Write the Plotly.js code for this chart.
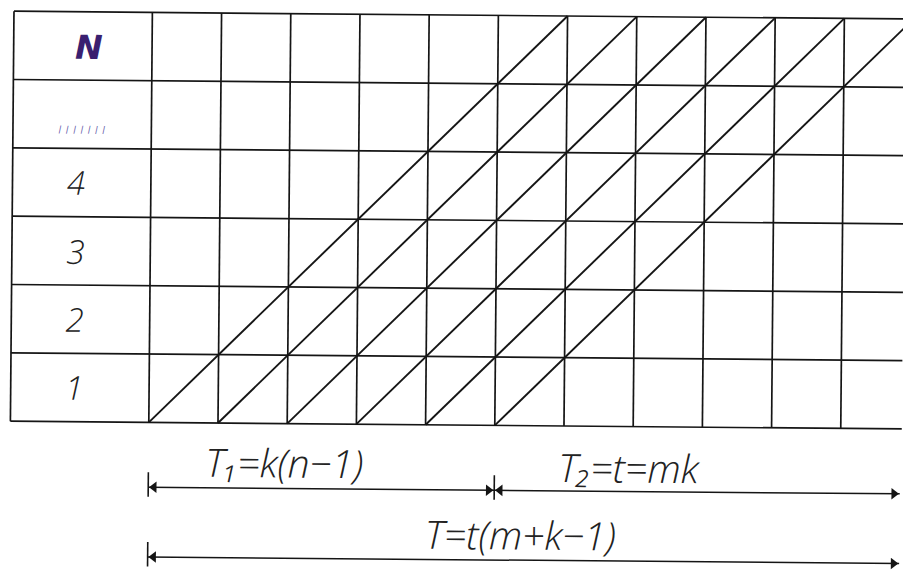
<!DOCTYPE html>
<html>
<head>
<meta charset="utf-8">
<script src="https://cdn.plot.ly/plotly-3.0.1.min.js"></script>
<style>
  html, body { margin: 0; padding: 0; background: #ffffff; overflow: hidden; }
  #chart { width: 903px; height: 572px; transform: rotate(0.5deg); transform-origin: 50% 50%; }
</style>
</head>
<body>
<div id="chart"></div>
<script>
// ---- data ----
const rowLabels = ['1', '2', '3', '4', 'ı ı ı ı ı ı ı', 'N'];      // bottom to top
const rowLabelColors = ['#222222', '#222222', '#222222', '#222222', '#5f5aa8', '#3a1f70'];
const columnCount = 11;                                     // time columns after the label column
const diagonalStarts = [0, 1, 2, 3, 4, 5];                  // column where each item starts
const stageCount = 6;                                       // rows crossed by every diagonal
const dimLabels = ['T₁=k(n−1)', 'T₂=t=mk', 'T=t(m+k−1)'];
const dimFrom = [0, 5, 0];
const dimTo = [5, 10.86, 10.86];
const dimLevel = [-0.95, -0.95, -1.97];
const dimTextX = [1.97, 6.95, 5.39];
const dimTextY = [-0.57, -0.59, -1.59];
const tickAt = [0, 5, 0];
const tickLevel = [-0.95, -0.95, -1.97];

// ---- build ----
const ink = '#151515';
const px0 = 150, pxPer = 69.2, py0 = 425, pyPer = 68.33;
const shapes = [];
const rows = rowLabels.length;
for (let r = 0; r <= rows; r++) {
  shapes.push({type: 'line', xref: 'x', yref: 'y', x0: -2, x1: columnCount + 1, y0: r, y1: r,
    line: {color: ink, width: 1.7}});
}
const vx = [-2];
for (let c = 0; c <= columnCount; c++) vx.push(c);
vx.forEach(x => shapes.push({type: 'line', xref: 'x', yref: 'y', x0: x, x1: x, y0: 0, y1: rows,
  line: {color: ink, width: 1.7}}));
diagonalStarts.forEach(s => shapes.push({type: 'line', xref: 'x', yref: 'y',
  x0: s, y0: 0, x1: s + stageCount, y1: stageCount, line: {color: ink, width: 1.9}}));
tickAt.forEach((x, i) => shapes.push({type: 'line', xref: 'x', yref: 'y',
  x0: x, x1: x, y0: tickLevel[i] - 0.14, y1: tickLevel[i] + 0.22, line: {color: ink, width: 1.6}}));
dimFrom.forEach((x0, i) => shapes.push({type: 'line', xref: 'x', yref: 'y',
  x0: x0, x1: dimTo[i], y0: dimLevel[i], y1: dimLevel[i], line: {color: ink, width: 1.5}}));

// arrowheads as triangle markers whose tips touch the segment ends
const arrowSize = 10;
const tipOffset = (arrowSize / 2) * 2 / Math.sqrt(3) / pxPer;
const arrowTrace = {
  type: 'scatter', mode: 'markers', hoverinfo: 'skip',
  x: [], y: [], marker: {symbol: [], size: arrowSize, color: ink, line: {width: 0}}
};
dimFrom.forEach((x0, i) => {
  arrowTrace.x.push(x0 + tipOffset, dimTo[i] - tipOffset);
  arrowTrace.y.push(dimLevel[i], dimLevel[i]);
  arrowTrace.marker.symbol.push('triangle-left', 'triangle-right');
});

const annotations = [];
rowLabels.forEach((t, i) => {
  const isN = i === rows - 1;
  const isDots = i === rows - 2;
  annotations.push({
    x: isN ? -0.91 : (isDots ? -1.0 : -1.09), y: i + 0.5 + (isDots ? -0.2 : 0) + (isN ? -0.02 : 0),
    xref: 'x', yref: 'y', showarrow: false, text: t,
    font: {family: isN ? 'DejaVu Sans' : 'Open Sans', size: isN ? 33 : (isDots ? 15 : 33),
      weight: isN ? 700 : 300, style: 'italic', color: rowLabelColors[i]},
    xanchor: 'center', yanchor: 'middle'
  });
});
dimLabels.forEach((t, i) => annotations.push({
  x: dimTextX[i], y: dimTextY[i], xref: 'x', yref: 'y', showarrow: false, text: t,
  font: {family: 'Open Sans', size: 39, weight: 300, style: 'italic', color: '#222222'},
  xanchor: 'center', yanchor: 'middle'
}));

const layout = {
  width: 903, height: 572,
  margin: {l: 0, r: 0, t: 0, b: 0},
  paper_bgcolor: '#ffffff', plot_bgcolor: '#ffffff',
  showlegend: false,
  xaxis: {range: [-px0 / pxPer, (903 - px0) / pxPer], visible: false, fixedrange: true},
  yaxis: {range: [(py0 - 572) / pyPer, py0 / pyPer], visible: false, fixedrange: true},
  shapes: shapes,
  annotations: annotations
};
Plotly.newPlot('chart', [arrowTrace], layout, {staticPlot: true, displayModeBar: false});
</script>
</body>
</html>
